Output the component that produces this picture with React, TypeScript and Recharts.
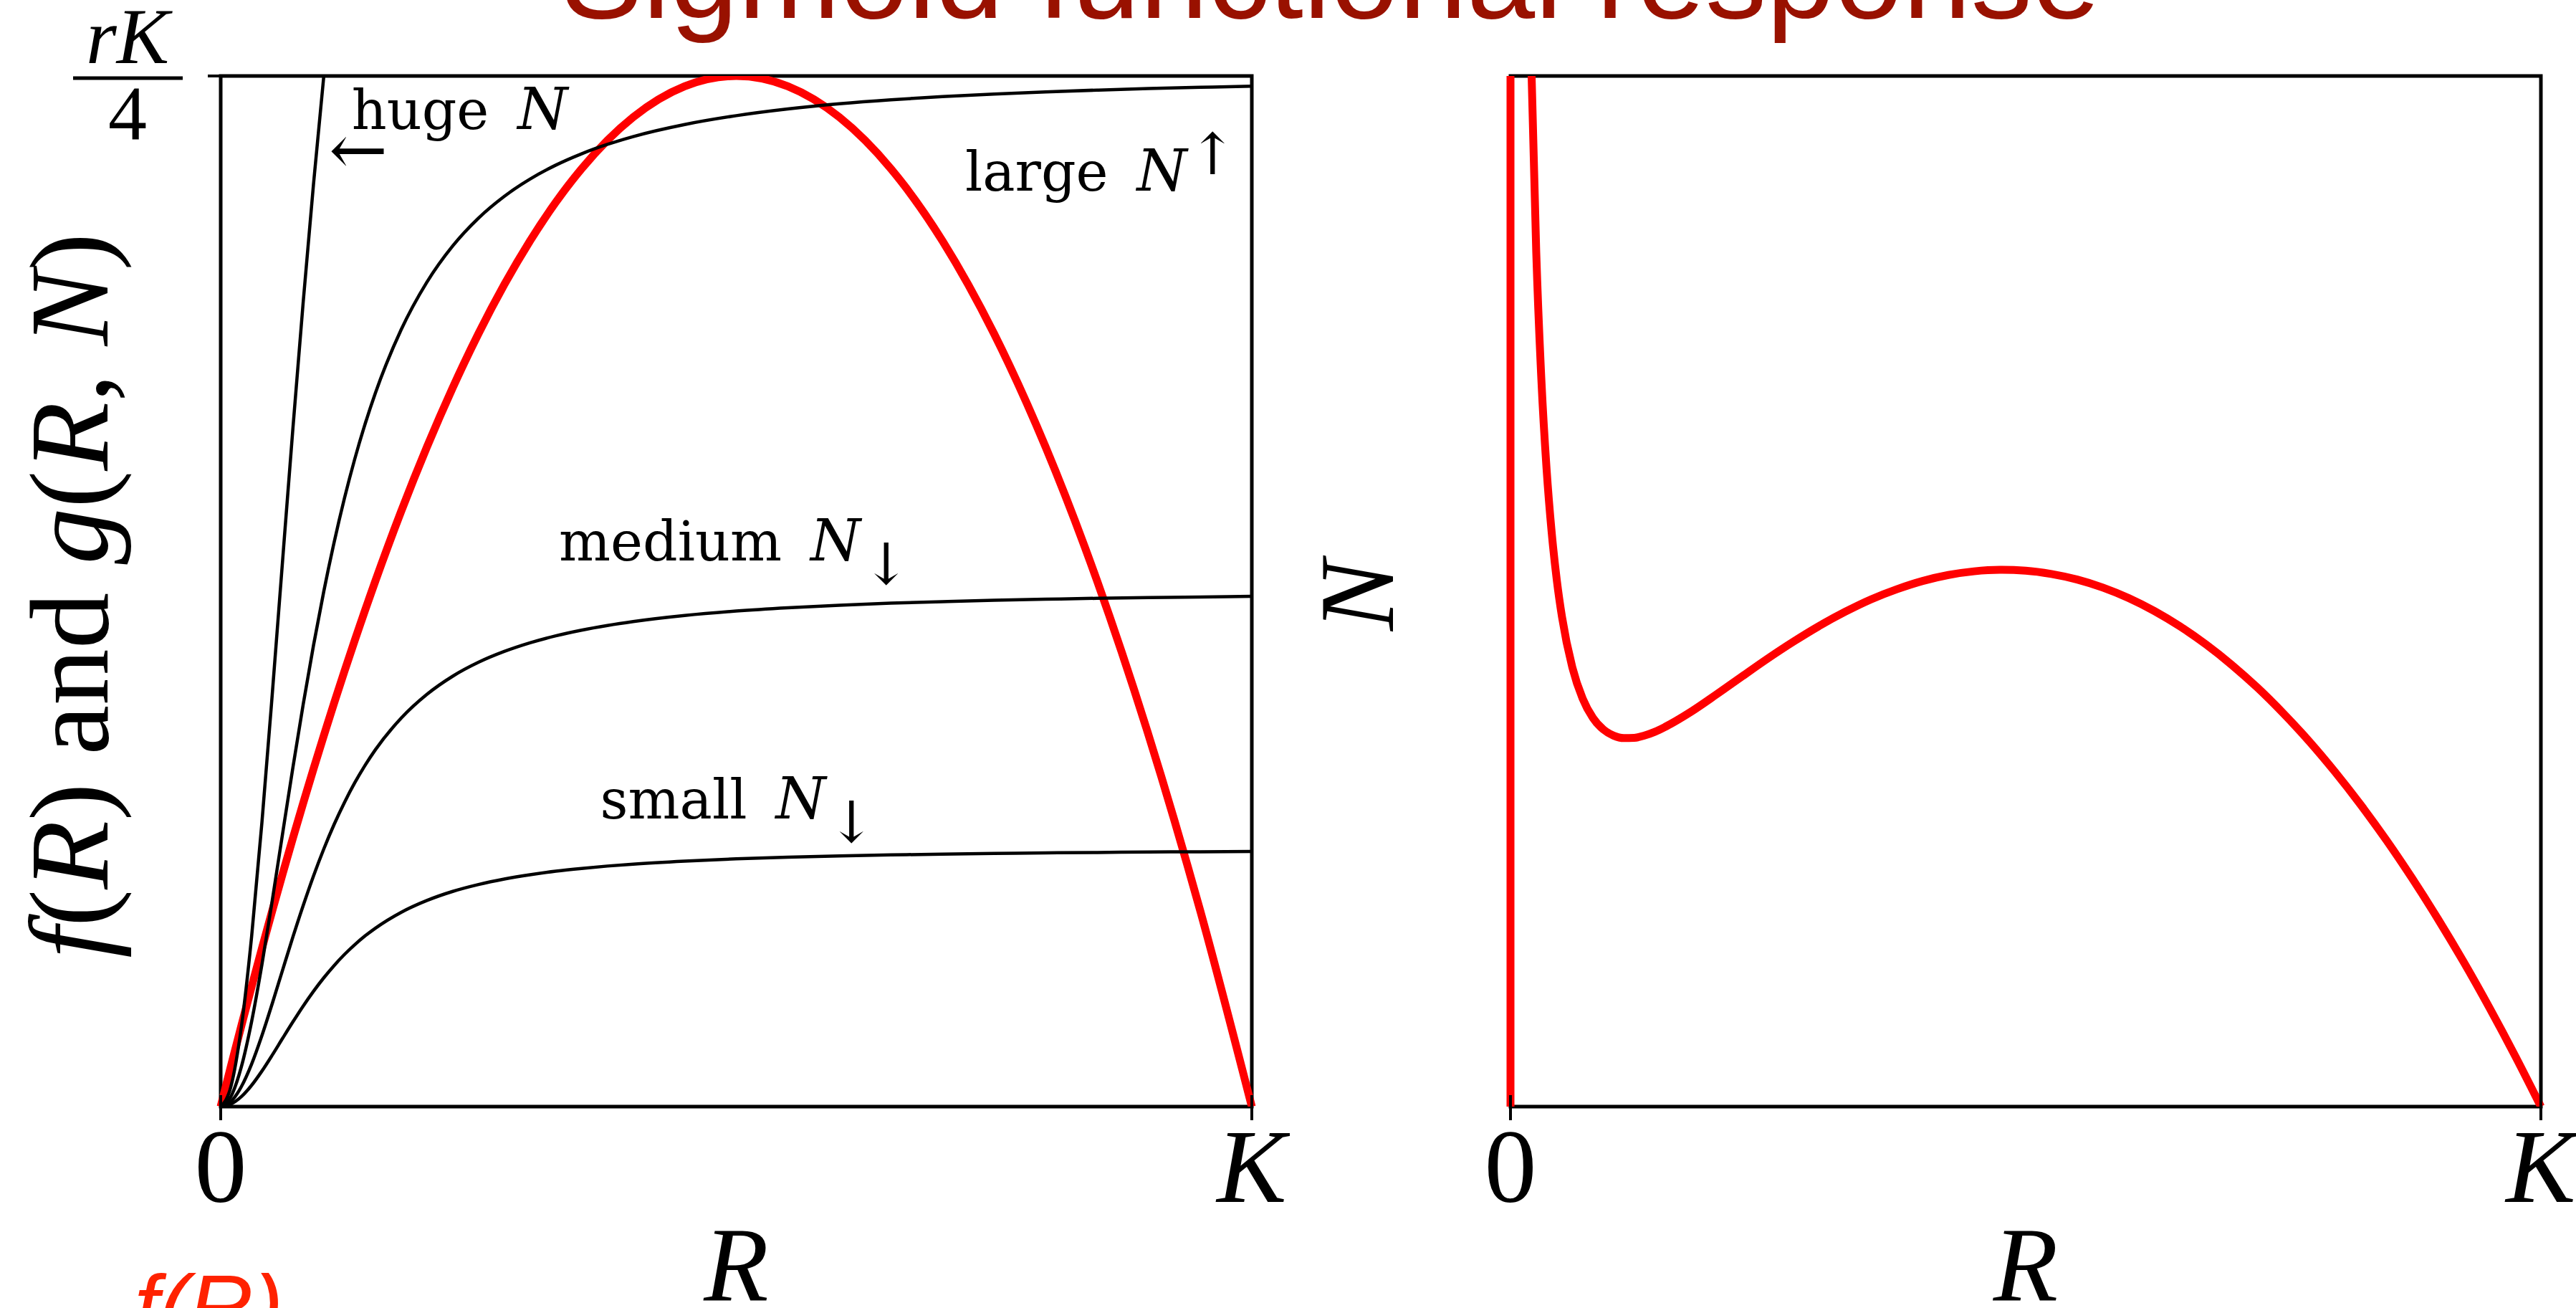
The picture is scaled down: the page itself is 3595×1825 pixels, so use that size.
import React from 'react';
import { LineChart, Line, XAxis, YAxis, ReferenceArea, ReferenceDot } from 'recharts';

const MATH_FONT = '"Liberation Serif", "DejaVu Serif", serif';
const NOTE_FONT = '"DejaVu Serif", "Liberation Serif", serif';
const SANS_FONT = '"Liberation Sans", Arial, sans-serif';

// Resource level R, as a fraction of the carrying capacity K
const resource = [
  0, 0.01, 0.02, 0.03, 0.04, 0.05, 0.06, 0.07, 0.08, 0.09, 0.1, 0.11, 0.12, 0.13, 0.14, 0.15,
  0.175, 0.2, 0.225, 0.25, 0.275, 0.3, 0.325, 0.35, 0.375, 0.4, 0.45, 0.5, 0.55, 0.6, 0.65,
  0.7, 0.75, 0.8, 0.85, 0.9, 0.95, 1.0,
];
// Logistic growth f(R), in units of rK/4
const growth = [
  0, 0.0396, 0.0784, 0.1164, 0.1536, 0.19, 0.2256, 0.2604, 0.2944, 0.3276, 0.36, 0.3916, 0.4224,
  0.4524, 0.4816, 0.51, 0.5775, 0.64, 0.6975, 0.75, 0.7975, 0.84, 0.8775, 0.91, 0.9375, 0.96,
  0.99, 1.0, 0.99, 0.96, 0.91, 0.84, 0.75, 0.64, 0.51, 0.36, 0.19, 0,
];
// Sigmoid consumption g(R, N) for four consumer densities
const grazingSmall = [
  0, 0.0025, 0.0096, 0.0207, 0.0345, 0.05, 0.0662, 0.0822, 0.0976, 0.1119, 0.125, 0.1369, 0.1476,
  0.1571, 0.1656, 0.1731, 0.1885, 0.2, 0.2088, 0.2155, 0.2208, 0.225, 0.2284, 0.2311, 0.2334, 0.2353,
  0.2382, 0.2404, 0.242, 0.2433, 0.2442, 0.245, 0.2456, 0.2462, 0.2466, 0.247, 0.2473, 0.2475,
];
const grazingMedium = [
  0, 0.005, 0.0193, 0.0413, 0.069, 0.1, 0.1324, 0.1645, 0.1951, 0.2238, 0.25, 0.2738, 0.2951,
  0.3142, 0.3311, 0.3462, 0.3769, 0.4, 0.4176, 0.4311, 0.4416, 0.45, 0.4568, 0.4623, 0.4668, 0.4706,
  0.4765, 0.4808, 0.484, 0.4865, 0.4885, 0.49, 0.4913, 0.4923, 0.4932, 0.4939, 0.4945, 0.4951,
];
const grazingLarge = [
  0, 0.0099, 0.0385, 0.0826, 0.1379, 0.2, 0.2647, 0.3289, 0.3902, 0.4475, 0.5, 0.5475, 0.5902,
  0.6283, 0.6622, 0.6923, 0.7538, 0.8, 0.8351, 0.8621, 0.8832, 0.9, 0.9135, 0.9245, 0.9336, 0.9412,
  0.9529, 0.9615, 0.968, 0.973, 0.9769, 0.98, 0.9825, 0.9846, 0.9863, 0.9878, 0.989, 0.9901,
];
const grazingHuge: (number | null)[] = [
  0, 0.0198, 0.077, 0.1651, 0.2759, 0.4, 0.5294, 0.6577, 0.7805, 0.895, 1.0, 1.095, 1.1803,
  null, null, null, null, null, null, null, null, null, null, null, null, null,
  null, null, null, null, null, null, null, null, null, null, null, null,
];

// Consumer nullcline N(R) where f(R) = g(R, N)
const nullclineR = [
  0.01, 0.0125, 0.015, 0.0175, 0.02, 0.025, 0.03, 0.035, 0.04, 0.045, 0.05, 0.06, 0.07, 0.08,
  0.09, 0.1, 0.11, 0.12, 0.13, 0.14, 0.15, 0.175, 0.2, 0.225, 0.25, 0.275, 0.3, 0.325, 0.35,
  0.375, 0.4, 0.425, 0.45, 0.475, 0.5, 0.525, 0.55, 0.575, 0.6, 0.625, 0.65, 0.675, 0.7, 0.725,
  0.75, 0.775, 0.8, 0.825, 0.85, 0.875, 0.9, 0.925, 0.95, 0.975, 1.0,
];
const nullclineN = [
  1.0, 0.8023, 0.6714, 0.5786, 0.5096, 0.4144, 0.3524, 0.3095, 0.2784, 0.2552, 0.2375, 0.2131, 0.198, 0.1886,
  0.183, 0.18, 0.1788, 0.1789, 0.18, 0.1818, 0.1842, 0.1915, 0.2, 0.2088, 0.2175, 0.2257, 0.2333, 0.2401, 0.2461,
  0.251, 0.255, 0.2579, 0.2597, 0.2604, 0.26, 0.2584, 0.2557, 0.2518, 0.2467, 0.2404, 0.2329, 0.2242, 0.2143, 0.2032,
  0.1908, 0.1773, 0.1625, 0.1465, 0.1293, 0.1108, 0.0911, 0.0702, 0.048, 0.0246, 0,
];
// Trivial nullcline R = 0
const trivialR = [0, 0];
const trivialN = [0, 0.5];

const xTicks = [0, 1];
const xTickLabels = ['0', 'K'];
const yTicks = [1];

// Curve annotations, placed in data coordinates (R, g)
const noteWords = ['huge', 'large', 'medium', 'small'];
const noteMarks = ['', '\u2191', '\u2193', '\u2193'];
const noteR = [0.127, 0.722, 0.328, 0.368];
const noteG = [0.9485, 0.889, 0.53, 0.2796];
const arrowR = 0.105;
const arrowG = 0.905;

const leftRows = resource.map((r, i) => ({
  R: r,
  f: growth[i],
  small: grazingSmall[i],
  medium: grazingMedium[i],
  large: grazingLarge[i],
  huge: grazingHuge[i],
}));
const rightRows = nullclineR.map((r, i) => ({ R: r, N: nullclineN[i] }));
const trivialRows = trivialR.map((r, i) => ({ R: r, N: trivialN[i] }));

const RED = '#ff0000';
const INK = '#000000';

const XTick = (props: any) => {
  const { x, y, payload } = props;
  const label = xTickLabels[xTicks.indexOf(payload.value)];
  return (
    <g>
      <line x1={x} x2={x} y1={y - 16} y2={y + 19} stroke={INK} strokeWidth={4} />
      <text
        x={x}
        y={y + 133}
        textAnchor="middle"
        fontFamily={MATH_FONT}
        fontSize={146}
        fontStyle={label === 'K' ? 'italic' : 'normal'}
        fill={INK}
      >
        {label}
      </text>
    </g>
  );
};

const FracTick = (props: any) => {
  const { x, y } = props;
  return (
    <g>
      <line x1={x - 18} x2={x + 16} y1={y} y2={y} stroke={INK} strokeWidth={4} />
      <text x={x - 130} y={y - 18} textAnchor="middle" fontFamily={MATH_FONT} fontSize={110} fontStyle="italic" fill={INK}>
        rK
      </text>
      <line x1={x - 206} x2={x - 53} y1={y + 3} y2={y + 3} stroke={INK} strokeWidth={5} />
      <text x={x - 130} y={y + 89} textAnchor="middle" fontFamily={MATH_FONT} fontSize={108} fill={INK}>
        4
      </text>
    </g>
  );
};

const xLabel = (props: any) => {
  const vb = props.viewBox;
  return (
    <text x={vb.x + vb.width / 2} y={vb.y + 271} textAnchor="middle" fontFamily={MATH_FONT} fontSize={148} fontStyle="italic" fill={INK}>
      R
    </text>
  );
};

const leftYLabel = (props: any) => {
  const vb = props.viewBox;
  const bx = vb.x + 150;
  const cy = vb.y + vb.height / 2 + 6;
  return (
    <text transform={`rotate(-90 ${bx} ${cy})`} x={bx} y={cy} textAnchor="middle" fontFamily={MATH_FONT} fontSize={157} fill={INK}>
      <tspan fontStyle="italic">f</tspan>
      {'('}
      <tspan fontStyle="italic">R</tspan>
      {') and '}
      <tspan fontStyle="italic">g</tspan>
      {'('}
      <tspan fontStyle="italic">R</tspan>
      {', '}
      <tspan fontStyle="italic">N</tspan>
      {')'}
    </text>
  );
};

const rightYLabel = (props: any) => {
  const vb = props.viewBox;
  const bx = vb.x + 144;
  const cy = vb.y + vb.height / 2 + 6;
  return (
    <text transform={`rotate(-90 ${bx} ${cy})`} x={bx} y={cy} textAnchor="middle" fontFamily={MATH_FONT} fontSize={148} fontStyle="italic" fill={INK}>
      N
    </text>
  );
};

const noteLabel = (i: number) => (props: any) => {
  const { x, y } = props.viewBox;
  const mark = noteMarks[i];
  const up = mark === '\u2191';
  return (
    <text x={x} y={y} fontFamily={NOTE_FONT} fontSize={76} fill={INK}>
      {noteWords[i]}
      <tspan fontStyle="italic" fontSize={80} dx={40}>
        N
      </tspan>
      {mark ? (
        <tspan fontSize={80} dx={2} dy={up ? -23 : 33}>
          {mark}
        </tspan>
      ) : null}
    </text>
  );
};

const arrowLabel = (props: any) => {
  const { x, y } = props.viewBox;
  return (
    <text x={x} y={y} fontFamily={NOTE_FONT} fontSize={98} fill={INK}>
      {'\u2190'}
    </text>
  );
};

export default function App() {
  return (
    <div
      style={{
        position: 'absolute',
        left: 0,
        top: 0,
        width: 3595,
        height: 1825,
        background: '#ffffff',
        overflow: 'hidden',
      }}
    >
      <svg width={3595} height={1825} style={{ position: 'absolute', left: 0, top: 0 }}>
        <text x={1857} y={25} textAnchor="middle" fontFamily={SANS_FONT} fontSize={171} fill="#991100">
          Sigmoid functional response
        </text>
        <text x={187} y={1866} fontFamily={SANS_FONT} fontSize={125} fontStyle="italic" fill="#ff2200">
          f(R)
        </text>
      </svg>

      <div style={{ position: 'absolute', left: 0, top: 0 }}>
        <LineChart width={1800} height={1825} data={leftRows} margin={{ top: 106, right: 53, bottom: 0, left: 0 }}>
          <XAxis
            type="number"
            dataKey="R"
            domain={[0, 1]}
            ticks={xTicks}
            interval={0}
            height={281}
            tickSize={0}
            tickMargin={0}
            axisLine={false}
            tickLine={false}
            tick={(p: any) => <XTick {...p} />}
            label={xLabel}
          />
          <YAxis
            type="number"
            domain={[0, 1]}
            allowDataOverflow
            ticks={yTicks}
            interval={0}
            width={308}
            tickSize={0}
            tickMargin={0}
            axisLine={false}
            tickLine={false}
            tick={(p: any) => <FracTick {...p} />}
            label={leftYLabel}
          />
          <ReferenceArea x1={0} x2={1} y1={0} y2={1} fill="none" fillOpacity={0} stroke={INK} strokeWidth={5} />
          <Line type="monotone" dataKey="f" stroke={RED} strokeWidth={11} dot={false} isAnimationActive={false} />
          <Line type="monotone" dataKey="small" stroke={INK} strokeWidth={4.5} dot={false} isAnimationActive={false} />
          <Line type="monotone" dataKey="medium" stroke={INK} strokeWidth={4.5} dot={false} isAnimationActive={false} />
          <Line type="monotone" dataKey="large" stroke={INK} strokeWidth={4.5} dot={false} isAnimationActive={false} />
          <Line type="monotone" dataKey="huge" stroke={INK} strokeWidth={4.5} dot={false} isAnimationActive={false} />
          {noteWords.map((w, i) => (
            <ReferenceDot key={w} x={noteR[i]} y={noteG[i]} r={0} fill="none" stroke="none" label={noteLabel(i)} />
          ))}
          <ReferenceDot x={arrowR} y={arrowG} r={0} fill="none" stroke="none" label={arrowLabel} />
        </LineChart>
      </div>

      <div style={{ position: 'absolute', left: 1800, top: 0 }}>
        <LineChart width={1795} height={1825} data={rightRows} margin={{ top: 106, right: 49, bottom: 0, left: 0 }}>
          <XAxis
            type="number"
            dataKey="R"
            domain={[0, 1]}
            ticks={xTicks}
            interval={0}
            height={281}
            tickSize={0}
            tickMargin={0}
            axisLine={false}
            tickLine={false}
            tick={(p: any) => <XTick {...p} />}
            label={xLabel}
          />
          <YAxis
            type="number"
            domain={[0, 0.5]}
            allowDataOverflow
            width={308}
            tick={false}
            tickSize={0}
            axisLine={false}
            tickLine={false}
            label={rightYLabel}
          />
          <ReferenceArea x1={0} x2={1} y1={0} y2={0.5} fill="none" fillOpacity={0} stroke={INK} strokeWidth={5} />
          <Line data={trivialRows} type="linear" dataKey="N" stroke={RED} strokeWidth={11} dot={false} isAnimationActive={false} />
          <Line type="monotone" dataKey="N" stroke={RED} strokeWidth={11} dot={false} isAnimationActive={false} />
        </LineChart>
      </div>
    </div>
  );
}
